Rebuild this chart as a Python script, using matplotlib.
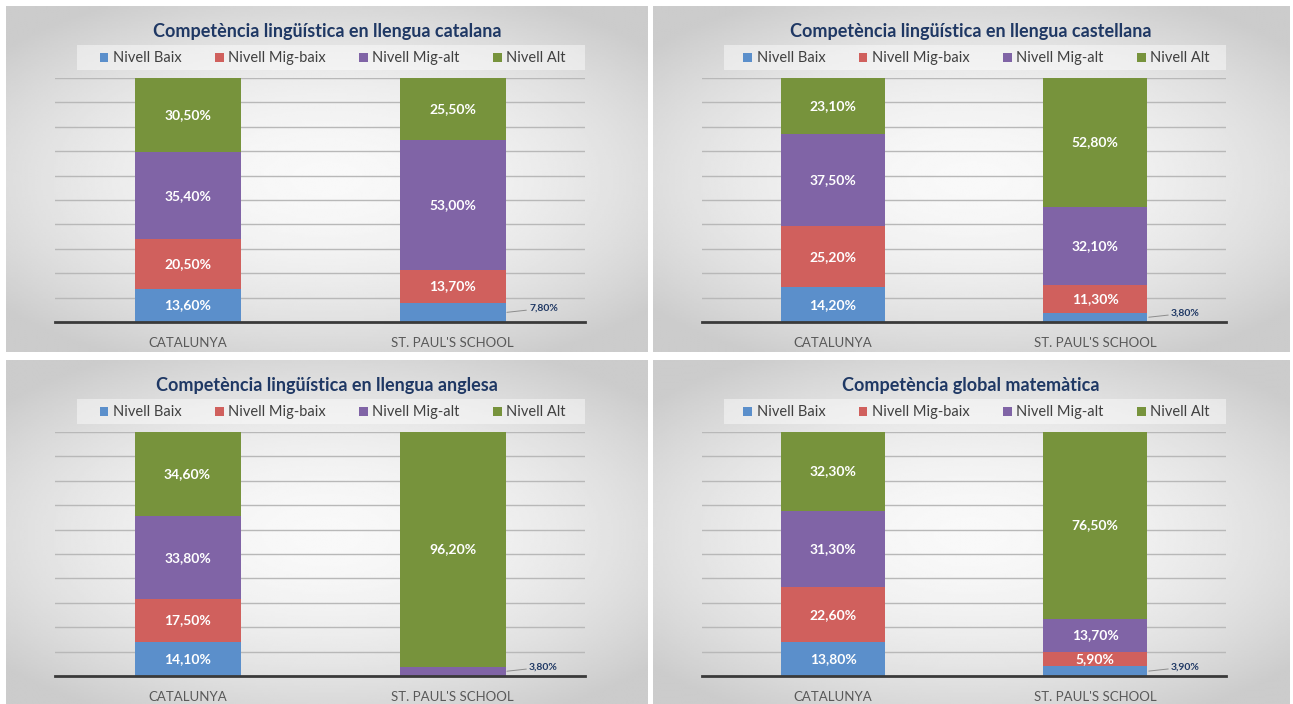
import numpy as np
import matplotlib
matplotlib.use("Agg")
import matplotlib.pyplot as plt
from matplotlib.patches import Rectangle

plt.rcParams['font.family'] = ['Lato', 'DejaVu Sans']

# dades
categories = ["CATALUNYA", "ST. PAUL'S SCHOOL"]
levels = ["Nivell Baix", "Nivell Mig-baix", "Nivell Mig-alt", "Nivell Alt"]
titles = ["Competència lingüística en llengua catalana",
          "Competència lingüística en llengua castellana",
          "Competència lingüística en llengua anglesa",
          "Competència global matemàtica"]

# valors (%) per nivell: [Catalunya, St. Paul's]
catalana_baix = [13.6, 7.8]
catalana_migbaix = [20.5, 13.7]
catalana_migalt = [35.4, 53.0]
catalana_alt = [30.5, 25.5]

castellana_baix = [14.2, 3.8]
castellana_migbaix = [25.2, 11.3]
castellana_migalt = [37.5, 32.1]
castellana_alt = [23.1, 52.8]

anglesa_baix = [14.1, 0.0]
anglesa_migbaix = [17.5, 0.0]
anglesa_migalt = [33.8, 3.8]
anglesa_alt = [34.6, 96.2]

mates_baix = [13.8, 3.9]
mates_migbaix = [22.6, 5.9]
mates_migalt = [31.3, 13.7]
mates_alt = [32.3, 76.5]

panels = [
    [catalana_baix, catalana_migbaix, catalana_migalt, catalana_alt],
    [castellana_baix, castellana_migbaix, castellana_migalt, castellana_alt],
    [anglesa_baix, anglesa_migbaix, anglesa_migalt, anglesa_alt],
    [mates_baix, mates_migbaix, mates_migalt, mates_alt],
]

# etiquetes fora de la barra (panell, nivell)
outside = [(0, 0), (1, 0), (2, 2), (3, 0)]

colors = ["#5b8fcb", "#d0605d", "#8064a6", "#77933c"]
title_color = "#1f3864"

W, H = 1293, 704
fig = plt.figure(figsize=(W / 100, H / 100), dpi=100)
fig.patch.set_facecolor("white")


def box(x, y, w, h):
    # pixels (des de dalt a l'esquerra) -> fraccio de figura
    return [x / W, 1 - (y + h) / H, w / W, h / H]


# gradient de fons
yy, xx = np.mgrid[-1:1:200j, -1:1:300j]
rr = np.sqrt((xx * 0.9) ** 2 + (yy * 1.0) ** 2)
grad = np.clip(0.975 - 0.13 * rr ** 1.8, 0.80, 0.975)

origins = [(6, 6, 642, 346), (653, 6, 636, 346),
           (6, 360, 642, 350), (653, 360, 636, 350)]

for p, (px, py, pw, ph) in enumerate(origins):
    bg = fig.add_axes(box(px, py, pw, ph))
    bg.imshow(grad, cmap="gray", vmin=0, vmax=1, aspect="auto",
              extent=[0, 1, 0, 1], interpolation="bilinear")
    bg.set_axis_off()

    # caixa de la llegenda (sota la llegenda)
    lb = box(px + 71, py + 39, pw - 134, 25)
    bg.add_patch(Rectangle((lb[0], lb[1]), lb[2], lb[3],
                           transform=fig.transFigure, facecolor="white",
                           alpha=0.45, edgecolor="none"))

    fig.text((px + pw / 2) / W, 1 - (py + 25) / H, titles[p],
             ha="center", va="center", fontsize=13, fontweight="bold",
             color=title_color)

    ax = fig.add_axes(box(px + 49, py + 72, pw - 112, 244))
    ax.set_facecolor("none")
    x = np.arange(len(categories))
    bottom = np.zeros(len(categories))
    for i, lev in enumerate(levels):
        vals = np.array(panels[p][i])
        ax.bar(x, vals, 0.4, bottom=bottom, color=colors[i], label=lev,
               zorder=3)
        for j in range(len(categories)):
            v = vals[j]
            if v <= 0:
                continue
            txt = f"{v:.2f}%".replace(".", ",")
            if (p, i) in outside and j == 1:
                ax.annotate(txt, xy=(x[j] + 0.2, bottom[j] + v / 2),
                            xytext=(17, 3), textcoords="offset points",
                            ha="left", va="center", fontsize=7.5,
                            fontweight="bold", color=title_color,
                            arrowprops=dict(arrowstyle="-", color="#8c8c8c",
                                            lw=0.7, shrinkA=0, shrinkB=1))
            else:
                ax.text(x[j], bottom[j] + v / 2, txt, ha="center",
                        va="center", fontsize=10, fontweight="bold",
                        color="white", zorder=4)
        bottom += vals

    ax.set_xlim(-0.5, 1.5)
    ax.set_ylim(0, 100)
    ax.set_yticks(np.arange(10, 101, 10))
    ax.set_yticklabels([])
    ax.tick_params(axis="y", length=0)
    ax.grid(axis="y", color="#b8b8b8", lw=1.0, zorder=0)
    ax.set_xticks(x)
    ax.set_xticklabels(categories, fontsize=9.5, color="#595959")
    ax.tick_params(axis="x", length=0, pad=11)
    for s in ["top", "right", "left"]:
        ax.spines[s].set_visible(False)
    ax.spines["bottom"].set_color("#3a3a3a")
    ax.spines["bottom"].set_linewidth(2)
    ax.spines["bottom"].set_zorder(5)

    ax.legend(loc="center", ncol=4, bbox_to_anchor=(0.524, 1.08),
              frameon=False, fontsize=10.5, handlelength=0.6,
              handleheight=0.6, handletextpad=0.3, columnspacing=2.3,
              labelcolor="#404040")

fig.savefig("out.png", dpi=100, facecolor="white")
